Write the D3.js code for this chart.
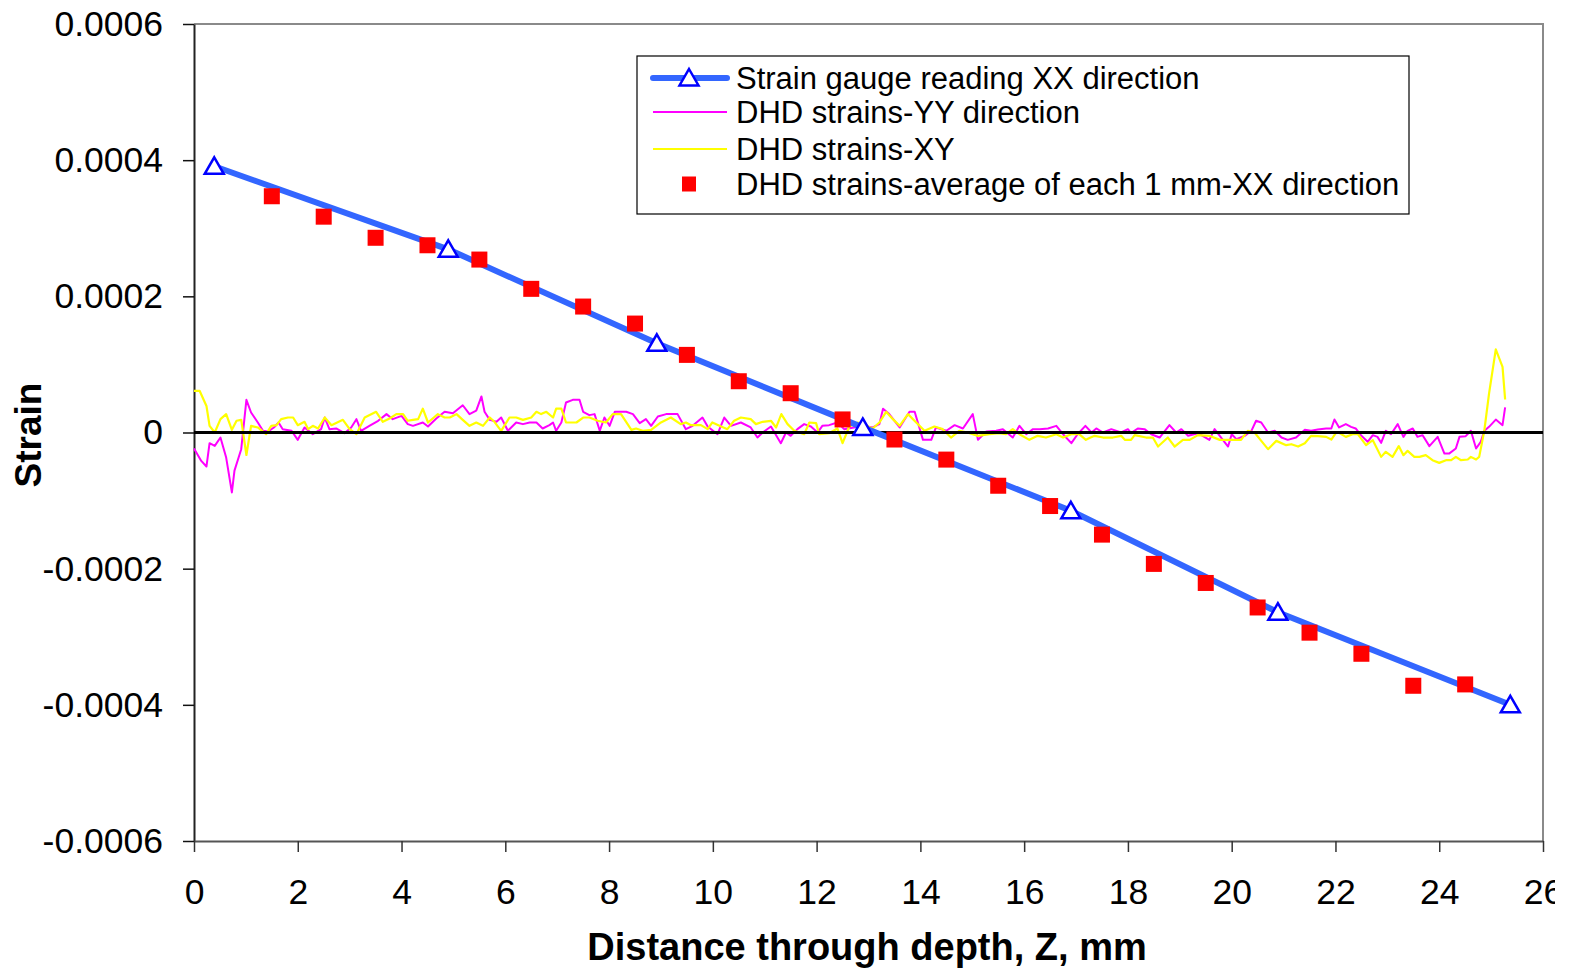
<!DOCTYPE html>
<html>
<head>
<meta charset="utf-8">
<script src="https://cdn.jsdelivr.net/npm/d3@7"></script>
<style>
  body { margin: 0; background: #fff; }
  svg { display: block; font-family: "Liberation Sans", Arial, sans-serif; }
</style>
</head>
<body>
<div id="chart"></div>
<script>
// Strain through depth: strain gauge vs DHD measurements

const width = 1577, height = 969;

// strain gauge reading, XX direction
const gaugeDepth = [0.39, 4.9, 8.92, 12.89, 16.9, 20.89, 25.37];
const gaugeStrain = [0.000391, 0.000269, 0.000131, 0.0000075, -0.000115, -0.000264, -0.0004];

// DHD average of each 1 mm, XX direction
const avgDepth = [1.5, 2.5, 3.5, 4.5, 5.5, 6.5, 7.5, 8.5, 9.5, 10.5, 11.5, 12.5,
  13.5, 14.5, 15.5, 16.5, 17.5, 18.5, 19.5, 20.5, 21.5, 22.5, 23.5, 24.5];
const avgStrain = [0.000347, 0.000317, 0.000286, 0.000275, 0.000254, 0.000211, 0.000185, 0.000160,
  0.000114, 0.0000753, 0.0000577, 0.0000192, -0.0000103, -0.0000398, -0.0000782, -0.000108,
  -0.000150, -0.000193, -0.000221, -0.000257, -0.000294, -0.000325, -0.000372, -0.000370];

// DHD strains YY direction: [depth mm, microstrain]
const yyData = [
  [0, -23.5], [0.14, -41.7], [0.24, -50], [0.3, -15.7], [0.4, -19.6], [0.51, -7.4], [0.62, -36.8],
  [0.73, -88], [0.78, -56], [0.91, -24.5], [1.01, 48], [1.1, 29.4], [1.23, 14.7], [1.33, 2.5],
  [1.43, 1.5], [1.54, 7.4], [1.63, 14.7], [1.71, 4.9], [1.88, 2.5], [2.0, -10.8], [2.13, 7.4],
  [2.29, -2.5], [2.45, 4.9], [2.52, 22], [2.61, 4.9], [2.74, 5.9], [2.9, -1], [3.03, 7.4],
  [3.13, 19.6], [3.22, 2.5], [3.38, 9.8], [3.55, 17.2], [3.71, 27], [3.83, 19.6], [4.0, 24.5],
  [4.12, 12.3], [4.22, 9.8], [4.41, 14.7], [4.51, 8.8], [4.67, 20.6], [4.83, 30.4], [4.99, 28.4],
  [5.18, 40], [5.31, 27], [5.44, 32], [5.54, 53], [5.6, 30.4], [5.7, 18.6], [5.83, 15.7],
  [5.92, 22], [6.05, 2.5], [6.21, 14.7], [6.34, 12.3], [6.47, 14.7], [6.6, 14.7], [6.72, 5.9],
  [6.85, 10.8], [6.92, 14.7], [6.98, 2.5], [7.08, 14.7], [7.17, 44], [7.3, 48], [7.43, 48],
  [7.5, 30.4], [7.62, 25.5], [7.72, 27], [7.82, 2.5], [7.91, 22], [8.01, 9.8], [8.11, 30.4],
  [8.33, 30.4], [8.46, 27], [8.59, 13.7], [8.71, 19.6], [8.81, 9.8], [8.94, 23.5], [9.1, 27],
  [9.32, 27], [9.48, 4.9], [9.61, 9.8], [9.8, 22], [9.9, 8.8], [10.09, -2.5], [10.22, 22],
  [10.35, 9.8], [10.54, 14.7], [10.73, 7.4], [10.86, -7.4], [10.96, 0], [11.12, 8.8],
  [11.31, -15.7], [11.41, 0], [11.5, -4.9], [11.63, 4.9], [11.76, 12.3], [11.89, 8.8],
  [12.02, 0], [12.11, 9.8], [12.24, 10.8], [12.4, 14.7], [12.53, 4.9], [12.72, 7.4],
  [12.89, 9.8], [13.08, 7.4], [13.21, 12.3], [13.28, 35], [13.4, 27], [13.6, 7.4], [13.79, 30.4],
  [13.89, 30.4], [14.05, -10.8], [14.21, -10.8], [14.3, 7.4], [14.5, 2.5], [14.66, 10.8],
  [14.82, 5.9], [15.01, 27], [15.11, -10.8], [15.27, 1.5], [15.46, 2.5], [15.59, 4.9],
  [15.78, -7.4], [15.91, 9.8], [16.04, -2.5], [16.17, 4.9], [16.3, 4.9], [16.46, 5.9],
  [16.62, 9.8], [16.75, -2.5], [16.91, -15.7], [17.03, -2.5], [17.18, 9.8], [17.3, 0],
  [17.39, 5.9], [17.52, 0], [17.68, 4.9], [17.87, 0], [18.0, 4.9], [18.06, -1], [18.19, 5.9],
  [18.32, 4.9], [18.45, -2.5], [18.61, -7.4], [18.8, 10.8], [18.93, 0], [19.03, 4.9],
  [19.16, -4.9], [19.35, -1], [19.57, -10.8], [19.67, 4.9], [19.77, -4.9], [19.93, -20.6],
  [20.0, -2.5], [20.09, -9.8], [20.25, -4.9], [20.38, 2.5], [20.47, 17.2], [20.57, 14.7],
  [20.7, 0], [20.83, 2.5], [20.96, -7.4], [21.08, -10.8], [21.24, -7.4], [21.41, 3.9],
  [21.53, 2.5], [21.66, 4.4], [21.82, 5.9], [21.92, 5.9], [21.98, 19], [22.07, 7.4],
  [22.2, 12.3], [22.3, 8.3], [22.39, 5.9], [22.49, -3.9], [22.62, -13.7], [22.72, -3.9],
  [22.81, -6.4], [22.88, -15.2], [22.97, 2.5], [23.07, -2.5], [23.2, 12.3], [23.31, -6.4],
  [23.39, 2.5], [23.49, 5.9], [23.58, -6.4], [23.68, -3.9], [23.81, -20], [23.97, -6.4],
  [24.1, -31], [24.19, -31], [24.32, -23.5], [24.39, -6.4], [24.51, -5.4], [24.61, 2.5],
  [24.71, -23.5], [24.8, -13.7], [24.87, 2.5], [24.96, 8.3], [25.09, 19], [25.22, 10.8],
  [25.27, 36.8]
];

// DHD strains XY: [depth mm, microstrain]
const xyData = [
  [0, 61], [0.11, 61], [0.24, 39], [0.3, 9.8], [0.4, 0], [0.51, 19.6], [0.62, 27], [0.73, 3.9],
  [0.82, 17.2], [0.91, 18.6], [1.01, -33], [1.1, 9.8], [1.23, 7.4], [1.39, -2.5], [1.49, 9.8],
  [1.59, 10.8], [1.68, 19.6], [1.81, 22], [1.91, 22], [2.0, 10.8], [2.13, 15.7], [2.2, 4.9],
  [2.29, 9.8], [2.39, 5.9], [2.52, 22], [2.65, 10.8], [2.87, 18.6], [3.0, 4.9], [3.13, -2.5],
  [3.29, 22], [3.51, 30.4], [3.64, 15.7], [3.77, 20.6], [3.9, 27], [4.03, 27], [4.12, 17.2],
  [4.22, 18.6], [4.32, 19.6], [4.41, 35], [4.51, 14.7], [4.7, 27], [4.83, 22], [4.93, 22],
  [5.06, 27], [5.18, 18.6], [5.31, 9.8], [5.44, 14.7], [5.57, 9.8], [5.7, 22], [5.79, 15.7],
  [5.92, 2.5], [6.08, 22], [6.21, 22], [6.34, 18.6], [6.5, 22], [6.6, 30.4], [6.69, 27],
  [6.79, 30.4], [6.92, 22], [6.98, 35], [7.08, 35], [7.17, 14.7], [7.37, 14.7], [7.5, 22],
  [7.62, 22], [7.78, 17.2], [7.94, 14.7], [8.07, 27], [8.23, 27], [8.43, 3.9], [8.52, 5.9],
  [8.65, 2.5], [8.81, 3.9], [9.0, 14.7], [9.19, 22], [9.38, 12.3], [9.48, 14.7], [9.58, 10.8],
  [9.77, 10.8], [9.9, 4.9], [9.99, 14.7], [10.16, 8.8], [10.28, 4.9], [10.41, 17.2], [10.54, 22],
  [10.73, 19.6], [10.83, 12.3], [10.96, 15.7], [11.12, 17.2], [11.22, 7.4], [11.32, 27],
  [11.44, 12.3], [11.57, 2.5], [11.76, -2.5], [11.86, 14.7], [11.99, 13.7], [12.05, -2.5],
  [12.24, -1], [12.4, 5.9], [12.5, -15.7], [12.63, 8.8], [12.79, 14.7], [12.89, 12.3],
  [13.08, 5.9], [13.21, 14.7], [13.34, 30.4], [13.47, 19.6], [13.6, 9.8], [13.76, 27],
  [13.92, 14.7], [14.08, 2.5], [14.27, 8.8], [14.43, 4.9], [14.59, -7.4], [14.75, 2.5],
  [14.95, -1], [15.11, -4.9], [15.33, -2.5], [15.52, -1], [15.65, -2.5], [15.78, 4.9],
  [15.91, -2.5], [16.1, -10.8], [16.26, -4.9], [16.42, -7.4], [16.62, -2.5], [16.75, -7.4],
  [16.91, -2.5], [17.06, -2.5], [17.19, -10.8], [17.28, -7.4], [17.36, -4.9], [17.52, -7.4],
  [17.71, -7.4], [17.87, -4.9], [17.94, -10.8], [18.06, -10.8], [18.13, -3.9], [18.35, -7.4],
  [18.48, -7.4], [18.58, -20.6], [18.77, -7.4], [18.9, -20.6], [19.06, -10.8], [19.19, -10.8],
  [19.35, -3.9], [19.57, -4.9], [19.77, -10.8], [19.93, -10.8], [20.18, -10.8], [20.31, 2.5],
  [20.44, 0], [20.57, -12.3], [20.7, -24.5], [20.86, -12.3], [21.05, -18.6], [21.15, -17.2],
  [21.28, -20.6], [21.41, -15.7], [21.53, -4.9], [21.66, -5.2], [21.82, -6.4], [21.92, -10.3],
  [22.01, -0.5], [22.07, -0.5], [22.2, -6.4], [22.33, -2.5], [22.43, -2.5], [22.59, -18.6],
  [22.72, -11.3], [22.88, -35.8], [22.97, -28.4], [23.1, -35.8], [23.22, -20], [23.31, -33.3],
  [23.39, -27], [23.52, -35.8], [23.62, -35.8], [23.74, -33.3], [23.87, -40.7], [24.0, -44.6],
  [24.13, -40.7], [24.23, -40.7], [24.32, -35.8], [24.42, -40.7], [24.55, -39.7], [24.61, -35.8],
  [24.71, -39.7], [24.77, -35.8], [24.87, 3.4], [24.96, 57], [25.09, 122], [25.22, 96.5],
  [25.27, 48.5]
];

const xTicks = [0, 2, 4, 6, 8, 10, 12, 14, 16, 18, 20, 22, 24, 26];
const yTicks = [-0.0006, -0.0004, -0.0002, 0, 0.0002, 0.0004, 0.0006];

const legendLabels = [
  "Strain gauge reading XX direction",
  "DHD strains-YY direction",
  "DHD strains-XY",
  "DHD strains-average of each 1 mm-XX direction"
];

const plot = { left: 194, right: 1543, top: 24, bottom: 841 };

// the source picture is cut just after the "26" tick label
const svg = d3.select("#chart")
  .append("svg")
  .attr("width", 1555)
  .attr("height", height);

const x = d3.scaleLinear().domain([0, 26]).range([plot.left, plot.right]);
const y = d3.scaleLinear().domain([-0.0006, 0.0006]).range([plot.bottom, plot.top]);

// plot frame (top & right in grey)
svg.append("path")
  .attr("d", `M${plot.left},${plot.top}H${plot.right}V${plot.bottom}`)
  .attr("fill", "none")
  .attr("stroke", "#8a8a8a")
  .attr("stroke-width", 2);

const yAxis = svg.append("g")
  .attr("transform", `translate(${plot.left},0)`)
  .call(d3.axisLeft(y).tickValues(yTicks).tickSize(11).tickSizeOuter(0).tickPadding(20)
    .tickFormat(d => Math.abs(d) < 1e-12 ? "0" : d.toFixed(4)));
yAxis.selectAll("text").attr("font-size", 35.5).attr("fill", "#000").attr("font-family", "Liberation Sans, Arial");
yAxis.selectAll("line").attr("stroke", "#111").attr("stroke-width", 1.5);
yAxis.select(".domain").attr("stroke", "#222").attr("stroke-width", 2);

const xAxis = svg.append("g")
  .attr("transform", `translate(0,${plot.bottom})`)
  .call(d3.axisBottom(x).tickValues(xTicks).tickSize(11).tickSizeOuter(0).tickPadding(27));
xAxis.selectAll("text").attr("font-size", 35.5).attr("fill", "#000").attr("font-family", "Liberation Sans, Arial");
xAxis.selectAll("line").attr("stroke", "#333").attr("stroke-width", 1.5);
xAxis.select(".domain").attr("stroke", "#555").attr("stroke-width", 2);

// axis titles
svg.append("text")
  .attr("x", 867).attr("y", 960)
  .attr("text-anchor", "middle")
  .attr("font-size", 38).attr("font-weight", "bold")
  .text("Distance through depth, Z, mm");

svg.append("text")
  .attr("transform", `translate(41,435) rotate(-90)`)
  .attr("text-anchor", "middle")
  .attr("font-size", 37).attr("font-weight", "bold")
  .text("Strain");

const line = d3.line().x(d => x(d[0])).y(d => y(d[1] * 1e-6));

svg.append("path")
  .datum(yyData)
  .attr("d", line)
  .attr("fill", "none").attr("stroke", "#ff00ff").attr("stroke-width", 2)
  .attr("stroke-linejoin", "round");

svg.append("path")
  .datum(xyData)
  .attr("d", line)
  .attr("fill", "none").attr("stroke", "#ffff00").attr("stroke-width", 2.2)
  .attr("stroke-linejoin", "round");

// zero line
svg.append("line")
  .attr("x1", plot.left).attr("x2", plot.right)
  .attr("y1", y(0)).attr("y2", y(0))
  .attr("stroke", "#000").attr("stroke-width", 3);

// strain gauge line
const gauge = gaugeDepth.map((d, i) => [d, gaugeStrain[i]]);
svg.append("path")
  .datum(gauge)
  .attr("d", d3.line().x(d => x(d[0])).y(d => y(d[1])))
  .attr("fill", "none").attr("stroke", "#3366ff").attr("stroke-width", 6);

const tri = "M0,-9L9.5,7.5H-9.5Z";

// average squares
svg.append("g")
  .selectAll("rect")
  .data(avgDepth.map((d, i) => [d, avgStrain[i]]))
  .join("rect")
  .attr("x", d => x(d[0]) - 8).attr("y", d => y(d[1]) - 8)
  .attr("width", 16).attr("height", 16)
  .attr("fill", "#ff0000");

svg.append("g")
  .selectAll("path")
  .data(gauge)
  .join("path")
  .attr("transform", d => `translate(${x(d[0])},${y(d[1])})`)
  .attr("d", tri)
  .attr("fill", "#fff").attr("stroke", "#0000ff").attr("stroke-width", 2.5);

// legend
const lg = svg.append("g");
lg.append("rect")
  .attr("x", 637).attr("y", 56).attr("width", 772).attr("height", 158)
  .attr("fill", "#fff").attr("stroke", "#000").attr("stroke-width", 1.2);

const rowY = [78, 112, 149, 184];
lg.selectAll("text")
  .data(legendLabels)
  .join("text")
  .attr("x", 736).attr("y", (d, i) => rowY[i] + 11)
  .attr("font-size", 31)
  .text(d => d);

lg.append("line").attr("x1", 653).attr("x2", 727).attr("y1", rowY[0]).attr("y2", rowY[0])
  .attr("stroke", "#3366ff").attr("stroke-width", 6).attr("stroke-linecap", "round");
lg.append("path").attr("transform", `translate(689,${rowY[0]})`).attr("d", tri)
  .attr("fill", "#fff").attr("stroke", "#0000ff").attr("stroke-width", 2.5);
lg.append("line").attr("x1", 653).attr("x2", 727).attr("y1", rowY[1]).attr("y2", rowY[1])
  .attr("stroke", "#ff00ff").attr("stroke-width", 2);
lg.append("line").attr("x1", 653).attr("x2", 727).attr("y1", rowY[2]).attr("y2", rowY[2])
  .attr("stroke", "#ffff00").attr("stroke-width", 2.2);
lg.append("rect").attr("x", 682).attr("y", rowY[3] - 7.5).attr("width", 14).attr("height", 15)
  .attr("fill", "#ff0000");
</script>
</body>
</html>
